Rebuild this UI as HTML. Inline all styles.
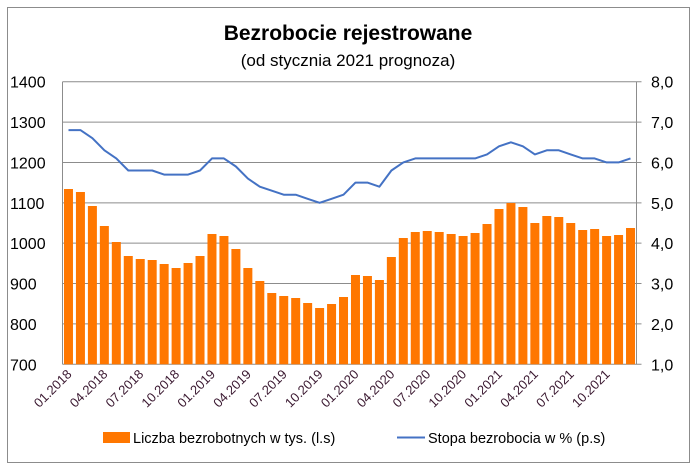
<!DOCTYPE html>
<html><head><meta charset="utf-8"><style>
html,body{margin:0;padding:0;background:#fff;}
svg{display:block;font-family:"Liberation Sans",sans-serif;}
</style></head><body>
<svg id="s" width="696" height="473" xmlns="http://www.w3.org/2000/svg">
<rect x="7.5" y="7.5" width="682" height="455" fill="#fff" stroke="#8c8c8c" stroke-width="1"/>
<text x="348" y="40" text-anchor="middle" font-size="21" font-weight="bold" fill="#000">Bezrobocie rejestrowane</text>
<text x="348" y="66" text-anchor="middle" font-size="17" fill="#000">(od stycznia 2021 prognoza)</text>
<g id="g"></g>
<rect x="103" y="432" width="27" height="11" fill="#ff7700"/>
<text x="133" y="443" font-size="14.5" fill="#000">Liczba bezrobotnych w tys. (l.s)</text>
<line x1="397" y1="437.5" x2="425" y2="437.5" stroke="#4472c4" stroke-width="2"/>
<text x="428" y="443" font-size="14.5" fill="#000">Stopa bezrobocia w % (p.s)</text>
</svg>
<script>
var g=document.getElementById('g'),h='';
var L=62.5,R=636.5,T=81.7,B=364.3,pu=(B-T)/7;
for(var i=0;i<=7;i++){var y=T+i*pu;
 h+='<line x1="'+L+'" y1="'+y+'" x2="'+(R+5)+'" y2="'+y+'" stroke="#8c8c8c" stroke-width="1"/>';
 h+='<text x="10" y="'+(y+6)+'" font-size="16" fill="#000">'+(1400-i*100)+'</text>';
 h+='<text x="651" y="'+(y+6)+'" font-size="16" fill="#000">'+(8-i)+',0</text>';}
h+='<line x1="'+L+'" y1="'+T+'" x2="'+L+'" y2="'+B+'" stroke="#8c8c8c"/>';
h+='<line x1="'+R+'" y1="'+T+'" x2="'+R+'" y2="'+B+'" stroke="#8c8c8c"/>';
var bz=[357,366,408,468,516,558,567,570,582,594,579,558,492,498,537,594,633,669,678,684,699,714,702,681,615,618,630,561,504,486,483,486,492,498,489,462,417,399,411,459,438,441,459,480,477,498,495,474];
var st=[6.8,6.8,6.6,6.3,6.1,5.8,5.8,5.8,5.7,5.7,5.7,5.8,6.1,6.1,5.9,5.6,5.4,5.3,5.2,5.2,5.1,5.0,5.1,5.2,5.5,5.5,5.4,5.8,6.0,6.1,6.1,6.1,6.1,6.1,6.1,6.2,6.4,6.5,6.4,6.2,6.3,6.3,6.2,6.1,6.1,6.0,6.0,6.1];
var sw=(R-L)/48,pts=[];
var lab=['01.2018','04.2018','07.2018','10.2018','01.2019','04.2019','07.2019','10.2019','01.2020','04.2020','07.2020','10.2020','01.2021','04.2021','07.2021','10.2021'];
for(var i=0;i<48;i++){var cx=L+sw*(i+0.5),ty=70+bz[i]/3;
 h+='<rect x="'+(cx-4.5)+'" y="'+ty+'" width="9" height="'+(B-ty)+'" fill="#ff7700"/>';
 pts.push(cx.toFixed(1)+','+(B-(st[i]-1)*pu).toFixed(1));
 if(i%3==0){h+='<text transform="translate('+(cx+4)+',375) rotate(-45)" text-anchor="end" font-size="13" fill="#3a1830">'+lab[i/3]+'</text>';}}
h+='<polyline points="'+pts.join(' ')+'" fill="none" stroke="#4472c4" stroke-width="2" stroke-linejoin="round"/>';
g.innerHTML=h;
</script>
</body></html>
